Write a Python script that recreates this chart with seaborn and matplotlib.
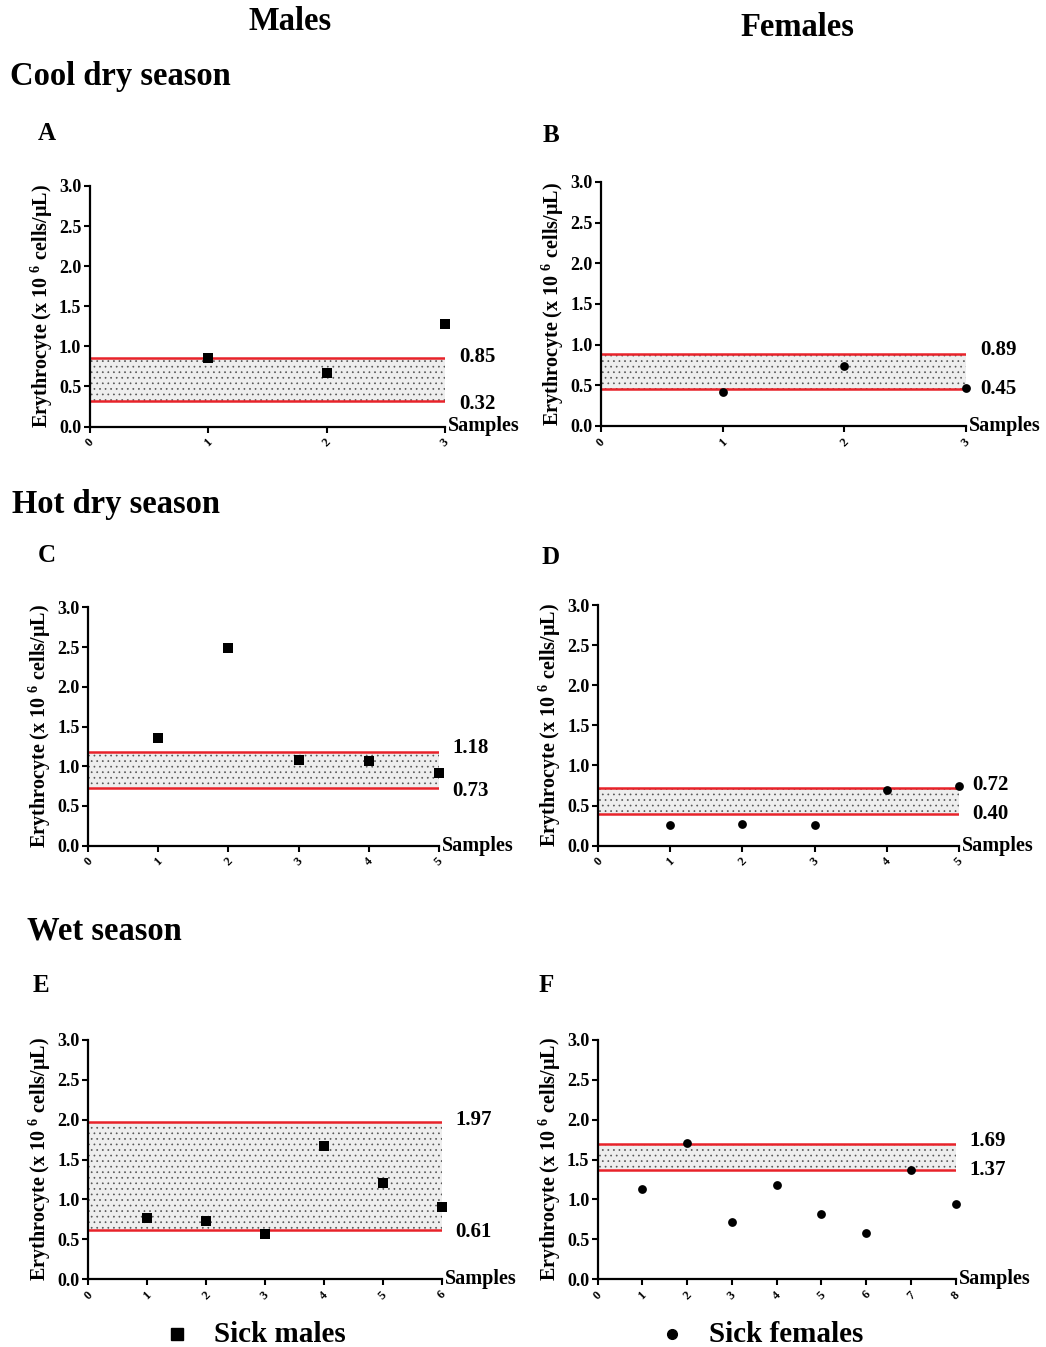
import matplotlib
matplotlib.use("Agg")
import matplotlib.pyplot as plt
import seaborn as sns
import pandas as pd
import numpy as np

# ---------------- data ----------------
males_cool = [0.85, 0.67, 1.28]
females_cool = [0.42, 0.74, 0.47]
males_hot = [1.36, 2.49, 1.08, 1.06, 0.91]
females_hot = [0.26, 0.27, 0.26, 0.69, 0.74]
males_wet = [0.76, 0.73, 0.56, 1.67, 1.20, 0.91]
females_wet = [1.13, 1.71, 0.72, 1.18, 0.82, 0.58, 1.37, 0.94]

ref_low = [0.32, 0.45, 0.73, 0.40, 0.61, 1.37]
ref_high = [0.85, 0.89, 1.18, 0.72, 1.97, 1.69]

panel_letters = ["A", "B", "C", "D", "E", "F"]
season_titles = ["Cool dry season", "Hot dry season", "Wet season"]
col_titles = ["Males", "Females"]
legend_labels = ["Sick males", "Sick females"]
y_ticks = [0.0, 0.5, 1.0, 1.5, 2.0, 2.5, 3.0]

series = [males_cool, females_cool, males_hot, females_hot, males_wet, females_wet]
sexes = ["M", "F", "M", "F", "M", "F"]

# ---------------- style ----------------
sns.set_style("ticks")
plt.rcParams["font.family"] = ["Liberation Serif", "DejaVu Serif"]
plt.rcParams["font.weight"] = "bold"
plt.rcParams["text.color"] = "black"
plt.rcParams["axes.labelcolor"] = "black"
plt.rcParams["xtick.color"] = "black"
plt.rcParams["ytick.color"] = "black"
plt.rcParams["mathtext.fontset"] = "custom"
plt.rcParams["mathtext.rm"] = "Liberation Serif:bold"
plt.rcParams["mathtext.bf"] = "Liberation Serif:bold"
plt.rcParams["hatch.linewidth"] = 0.5
plt.rcParams["hatch.color"] = "#555555"

fig = plt.figure(figsize=(10.46, 13.47), dpi=100)
W, H = 1046, 1347

# axes boxes in pixels: (left, right, top, bottom)
boxes = [
    (89.5, 445, 186, 426.5),
    (601, 966, 182, 426),
    (88.3, 438.7, 607.3, 845.7),
    (598.3, 958.7, 605, 845.7),
    (88.3, 441.7, 1040, 1279),
    (597.7, 955.7, 1040, 1279),
]
# label vertical nudges in pixels (upper, lower)
nudges = [(1, -3), (4, 0), (4, -3), (3, 0), (2, -2), (3, 0)]

for i, (vals, sex) in enumerate(zip(series, sexes)):
    l, r, t, b = boxes[i]
    ax = fig.add_axes([l / W, 1 - b / H, (r - l) / W, (b - t) / H])
    n = len(vals)
    df = pd.DataFrame({"Sample": np.arange(1, n + 1), "Value": vals})

    # reference band
    ax.axhspan(ref_low[i], ref_high[i], xmin=0, xmax=1.0, facecolor="#eeeeee",
               edgecolor="#555555", hatch="...", linewidth=0, zorder=1)
    ax.axhline(ref_high[i], color="#e8232a", lw=1.8, zorder=2)
    ax.axhline(ref_low[i], color="#e8232a", lw=1.8, zorder=2)

    marker = "s" if sex == "M" else "o"
    sns.scatterplot(data=df, x="Sample", y="Value", ax=ax, marker=marker,
                    color="black", s=48 if sex == "M" else 40, edgecolor="black",
                    linewidth=0, zorder=5, clip_on=False, legend=False)

    ax.set_xlim(0, n)
    ax.set_ylim(0, 3.0)
    ax.set_yticks(y_ticks)
    ax.set_yticklabels([f"{v:.1f}" for v in y_ticks], fontsize=13, fontweight="bold")
    ax.set_xticks(range(0, n + 1))
    ax.set_xticklabels([str(k) for k in range(0, n + 1)], fontsize=9,
                       fontweight="bold", rotation=45)
    ax.set_xlabel("")
    ax.set_ylabel("Erythrocyte (x 10$^{\\ 6}$ cells/µL)", fontsize=14.5,
                  fontweight="bold", labelpad=3)
    for s in ["top", "right"]:
        ax.spines[s].set_visible(False)
    for s in ["left", "bottom"]:
        ax.spines[s].set_linewidth(1.6)
        ax.spines[s].set_color("black")
    ax.tick_params(axis="both", direction="out", length=4, width=1.5,
                   colors="black", pad=2)
    ax.tick_params(axis="x", pad=3)

    # reference value labels
    up, lo = nudges[i]
    ax.annotate(f"{ref_high[i]:.2f}", xy=(1.0, ref_high[i]),
                xycoords=("axes fraction", "data"),
                xytext=(10, up * 0.72), textcoords="offset points",
                ha="left", va="center", fontsize=15, fontweight="bold")
    ax.annotate(f"{ref_low[i]:.2f}", xy=(1.0, ref_low[i]),
                xycoords=("axes fraction", "data"),
                xytext=(10, lo * 0.72), textcoords="offset points",
                ha="left", va="center", fontsize=15, fontweight="bold")
    ax.annotate("Samples", xy=(1.0, 0.0), xycoords="axes fraction",
                xytext=(2, 0), textcoords="offset points",
                ha="left", va="center", fontsize=14.5, fontweight="bold")

    # panel letter
    lx = [47, 551, 47, 551, 41, 546][i]
    ly = [134, 135, 556, 557, 985, 986][i]
    fig.text(lx / W, 1 - ly / H, panel_letters[i], fontsize=18,
             fontweight="bold", ha="center", va="center")

# column titles
fig.text(290 / W, 1 - 22 / H, col_titles[0], fontsize=23.5, fontweight="bold",
         ha="center", va="center")
fig.text(797 / W, 1 - 27 / H, col_titles[1], fontsize=23.5, fontweight="bold",
         ha="center", va="center")

# season titles
for (x, y), txt in zip([(10, 77), (12, 505), (27, 931)], season_titles):
    fig.text(x / W, 1 - y / H, txt, fontsize=23.5, fontweight="bold",
             ha="left", va="center")

# legend
fig.lines.append(plt.Line2D([177 / W], [1 - 1334 / H], marker="s", color="black",
                            markersize=8, linestyle="none", transform=fig.transFigure))
fig.text(214 / W, 1 - 1335 / H, legend_labels[0], fontsize=21, fontweight="bold",
         ha="left", va="center")
fig.lines.append(plt.Line2D([672 / W], [1 - 1334 / H], marker="o", color="black",
                            markersize=7, linestyle="none", transform=fig.transFigure))
fig.text(709 / W, 1 - 1335 / H, legend_labels[1], fontsize=21, fontweight="bold",
         ha="left", va="center")

fig.savefig("out.png", dpi=100, facecolor="white")
